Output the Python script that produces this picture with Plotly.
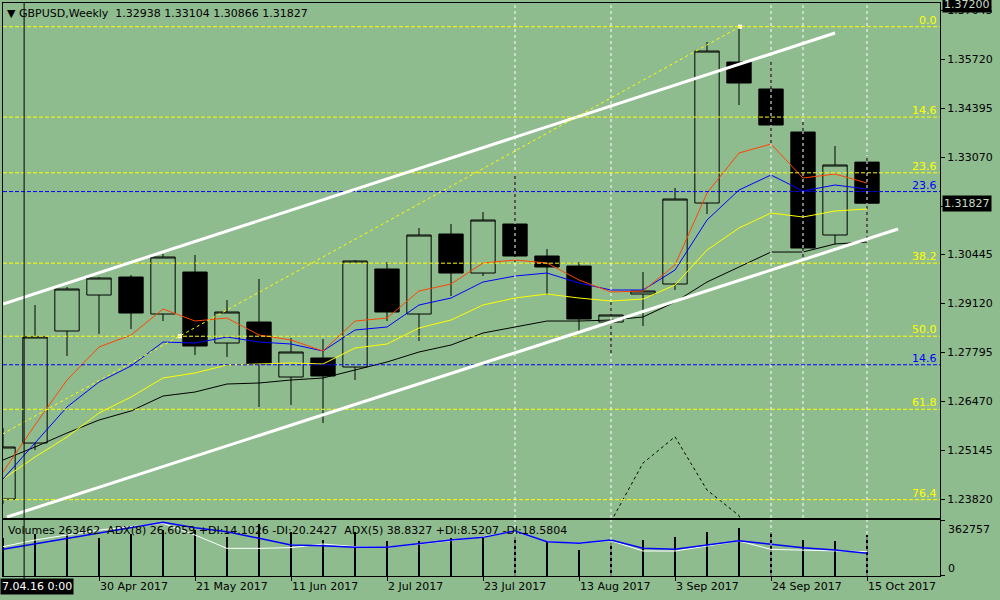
import plotly.graph_objects as go

BG = '#8FBC8F'

# weekly GBPUSD bars, first bar = week of 9 Apr 2017
opens = [1.23828, 1.25342, 1.28371, 1.29344, 1.29831, 1.28831, 1.29966, 1.28046, 1.28614, 1.27127,
         1.27641, 1.27397, 1.30048, 1.28831, 1.30994, 1.29939, 1.31264, 1.30399, 1.30129, 1.28614,
         1.29371, 1.29642, 1.31832, 1.35645, 1.34915, 1.33752, 1.30967, 1.32938]
highs = [1.25748, 1.29074, 1.29561, 1.29831, 1.29885, 1.30453, 1.30426, 1.29209, 1.29777, 1.28182,
         1.28155, 1.30291, 1.30237, 1.31156, 1.31264, 1.31589, 1.32670, 1.30588, 1.30237, 1.29155,
         1.29966, 1.32238, 1.36186, 1.36618, 1.35726, 1.34023, 1.33374, 1.33104]
lows = [1.23700, 1.25153, 1.27695, 1.28290, 1.28425, 1.28641, 1.27722, 1.27668, 1.26316, 1.26370,
        1.25883, 1.27046, 1.28641, 1.28101, 1.29317, 1.29858, 1.30237, 1.29344, 1.28371, 1.27749,
        1.28506, 1.29480, 1.31535, 1.34482, 1.33428, 1.30345, 1.30724, 1.30866]
closes = [1.25234, 1.28209, 1.29507, 1.29804, 1.28858, 1.30372, 1.27965, 1.28885, 1.27479, 1.27803,
          1.27154, 1.30264, 1.28885, 1.30967, 1.29939, 1.31372, 1.30399, 1.30102, 1.28695, 1.28804,
          1.29453, 1.31940, 1.35942, 1.35077, 1.33941, 1.30615, 1.32860, 1.31827]

# moving averages
ma_red = [1.24558, 1.25829, 1.27046, 1.27938, 1.28263, 1.28966, 1.28641, 1.28722, 1.28263, 1.28128,
          1.27830, 1.28641, 1.28722, 1.29453, 1.29642, 1.30210, 1.30291, 1.30210, 1.29750, 1.29426,
          1.29453, 1.30156, 1.32103, 1.33184, 1.33428, 1.32508, 1.32616, 1.32373]
ma_blue = [1.24369, 1.25342, 1.26316, 1.26992, 1.27425, 1.28073, 1.28046, 1.28209, 1.28073, 1.28019,
           1.27830, 1.28398, 1.28479, 1.29074, 1.29263, 1.29696, 1.29858, 1.29939, 1.29669, 1.29480,
           1.29480, 1.30020, 1.31373, 1.32184, 1.32589, 1.32157, 1.32319, 1.32211]
ma_yellow = [1.24369, 1.24964, 1.25505, 1.26154, 1.26586, 1.27100, 1.27235, 1.27452, 1.27479, 1.27506,
             1.27479, 1.27911, 1.28019, 1.28452, 1.28668, 1.29074, 1.29263, 1.29371, 1.29263, 1.29182,
             1.29236, 1.29615, 1.30561, 1.31156, 1.31562, 1.31454, 1.31616, 1.31670]
ma_black = [1.24883, 1.25234, 1.25613, 1.25964, 1.26208, 1.26613, 1.26721, 1.26938, 1.26965, 1.27046,
            1.27100, 1.27316, 1.27533, 1.27803, 1.27992, 1.28317, 1.28479, 1.28641, 1.28641, 1.28668,
            1.28750, 1.29155, 1.29696, 1.30102, 1.30507, 1.30507, 1.30724, 1.30778]

# dotted indicator (mostly below the visible range)
dot_idx = [19, 20, 21, 22, 23, 24, 25, 26, 27]
dot_vals = [1.2322, 1.2480, 1.2551, 1.2407, 1.2338, 1.2100, 1.2100, 1.2200, 1.2336]

volumes = [244200, 270100, 270100, 244200, 270100, 298000, 298000, 254600, 334900, 287000,
           233200, 287000, 226700, 226700, 244200, 244200, 250000, 218300, 168400, 211800,
           233200, 250700, 283000, 308700, 283000, 233200, 226700, 263462]
adx_blue = [47.7, 57.1, 66.8, 76.4, 86.1, 95.9, 86.3, 79.2, 67.3, 55.4, 54.2, 51.2, 51.2, 58.3,
            64.3, 69.0, 80.4, 61.3, 58.3, 64.3, 49.4, 47.6, 55.4, 63.1, 56.5, 50.6, 46.4, 40.5]
adx_white = [52.4, 64.3, 73.2, 82.1, 88.1, 94.0, 73.2, 49.4, 49.4, 50.6, 57.1, 52.4, 51.2, 56.5,
             63.1, 70.2, 79.2, 61.3, 58.3, 63.1, 44.6, 44.6, 54.2, 62.5, 47.6, 46.4, 44.6, 43.5]

tick_idx = [3, 6, 9, 12, 15, 18, 21, 24, 27]
tick_text = ['30 Apr 2017', '21 May 2017', '11 Jun 2017', '2 Jul 2017', '23 Jul 2017',
             '13 Aug 2017', '3 Sep 2017', '24 Sep 2017', '15 Oct 2017']
price_ticks = [1.23820, 1.25145, 1.26470, 1.27795, 1.29120, 1.30445, 1.31745, 1.33070,
               1.34395, 1.35720, 1.37045]
# 1.31745 sits under the current-price box, so its label is left out
price_tick_text = ['' if t == 1.31745 else '%.5f' % t for t in price_ticks]

fib_high, fib_low = 1.36600, 1.19860
fib_levels = [0.0, 14.6, 23.6, 38.2, 50.0, 61.8, 76.4]
fib2_low, fib2_high = 1.19860, 1.71900
fib2_levels = [14.6, 23.6]

upper_channel = [(0.0, 1.29101), (26.0, 1.36429)]
lower_channel = [(0.125, 1.23341), (27.97, 1.31129)]
fib_ray = [(-12.0, 1.19860), (23.03, 1.36600)]
fib_anchor_x = [5.53, 23.03]
fib_anchor_y = [1.28230, 1.36600]

vlines_main = [16, 19, 24, 25, 27]
vlines_sub = [16, 19, 24, 27]

idx = list(range(len(opens)))
FONT = 'DejaVu Sans'

fig = go.Figure()

fig.add_trace(go.Candlestick(
    x=idx, open=opens, high=highs, low=lows, close=closes,
    increasing=dict(line=dict(color='black', width=1), fillcolor=BG),
    decreasing=dict(line=dict(color='black', width=1), fillcolor='black'),
    whiskerwidth=0, showlegend=False, xaxis='x', yaxis='y'))

for vals, col in [(ma_black, 'black'), (ma_yellow, '#FFFF00'), (ma_blue, '#0000FF'), (ma_red, '#FF4500')]:
    fig.add_trace(go.Scatter(x=idx, y=vals, mode='lines', line=dict(color=col, width=1),
                             showlegend=False, xaxis='x', yaxis='y'))

fig.add_trace(go.Scatter(x=dot_idx, y=dot_vals, mode='lines', line=dict(color='black', width=1, dash='dot'),
                         showlegend=False, xaxis='x', yaxis='y'))
fig.add_trace(go.Scatter(x=fib_anchor_x, y=fib_anchor_y, mode='markers',
                         marker=dict(color='white', size=4, symbol='square'),
                         showlegend=False, xaxis='x', yaxis='y'))

# volumes + ADX panel
fig.add_trace(go.Bar(x=idx, y=volumes, width=0.09, marker=dict(color='black', line=dict(width=0)),
                     showlegend=False, xaxis='x2', yaxis='y2'))
fig.add_trace(go.Scatter(x=idx, y=adx_white, mode='lines', line=dict(color='white', width=1),
                         showlegend=False, xaxis='x2', yaxis='y3'))
fig.add_trace(go.Scatter(x=idx, y=adx_blue, mode='lines', line=dict(color='#0000FF', width=1.5),
                         showlegend=False, xaxis='x2', yaxis='y3'))

shapes = []
for lvl in fib_levels:
    p = fib_high - lvl / 100 * (fib_high - fib_low)
    shapes.append(dict(type='line', xref='x domain', yref='y', x0=0, x1=1, y0=p, y1=p,
                       line=dict(color='#FFFF00', width=1, dash='4px,2px')))
for lvl in fib2_levels:
    p = fib2_low + lvl / 100 * (fib2_high - fib2_low)
    shapes.append(dict(type='line', xref='x domain', yref='y', x0=0, x1=1, y0=p, y1=p,
                       line=dict(color='#0000FF', width=1, dash='4px,2px')))
for v in vlines_main:
    shapes.append(dict(type='line', xref='x', yref='y domain', x0=v, x1=v, y0=0, y1=1,
                       line=dict(color='white', width=1, dash='3px,3px')))
for v in vlines_sub:
    shapes.append(dict(type='line', xref='x2', yref='y2 domain', x0=v, x1=v, y0=0, y1=1,
                       line=dict(color='white', width=1, dash='3px,3px')))
for (xa, ya), (xb, yb) in [upper_channel, lower_channel]:
    shapes.append(dict(type='line', xref='x', yref='y', x0=xa, y0=ya, x1=xb, y1=yb,
                       line=dict(color='white', width=3)))
shapes.append(dict(type='line', xref='x', yref='y', x0=fib_ray[0][0], y0=fib_ray[0][1],
                   x1=fib_ray[1][0], y1=fib_ray[1][1], line=dict(color='#FFFF00', width=1, dash='dot')))
# crosshair line
shapes.append(dict(type='line', xref='x', yref='paper', x0=0.66, x1=0.66, y0=-0.007, y1=1,
                   line=dict(color='black', width=1)))

annotations = []
for lvl in fib_levels:
    p = fib_high - lvl / 100 * (fib_high - fib_low)
    annotations.append(dict(text='%.1f' % lvl, xref='paper', yref='y', x=0.999, y=p, xanchor='right',
                            yanchor='bottom', showarrow=False, yshift=-2,
                            font=dict(family=FONT, size=11, color='#FFFF00')))
for lvl in fib2_levels:
    p = fib2_low + lvl / 100 * (fib2_high - fib2_low)
    annotations.append(dict(text='%.1f' % lvl, xref='paper', yref='y', x=0.999, y=p, xanchor='right',
                            yanchor='bottom', showarrow=False, yshift=-2,
                            font=dict(family=FONT, size=11, color='#0000FF')))

annotations += [
    dict(text='\u25bc GBPUSD,Weekly\u00a0\u00a01.32938 1.33104 1.30866 1.31827', xref='paper', yref='paper',
         x=0.002, y=1, xanchor='left', yanchor='top', yshift=-2, showarrow=False,
         font=dict(family=FONT, size=11, color='black')),
    dict(text='Volumes 263462\u00a0\u00a0ADX(8) 26.6059 +DI:14.1026 -DI:20.2427\u00a0\u00a0ADX(5) 38.8327 +DI:8.5207 -DI:18.5804',
         xref='paper', yref='paper', x=0.003, y=0.08, xanchor='left', yanchor='middle', showarrow=False,
         font=dict(family=FONT, size=11, color='black')),
    dict(text=f'{closes[-1]:.5f}', xref='paper', yref='y', x=1.002, y=closes[-1], xanchor='left',
         yanchor='middle', showarrow=False, bgcolor='black', borderpad=1,
         font=dict(family=FONT, size=11, color='#C8DCC6')),
    dict(text='1.37200', xref='paper', yref='paper', x=1.002, y=1, xanchor='left', yanchor='middle',
         yshift=-1, showarrow=False, bgcolor='black', borderpad=1,
         font=dict(family=FONT, size=11, color='#C8DCC6')),
    dict(text='7.04.16 0:00', xref='paper', yref='paper', x=-0.0032, y=-0.019, xanchor='left',
         yanchor='middle', showarrow=False, bgcolor='black', borderpad=1,
         font=dict(family=FONT, size=11, color='white')),
    dict(text='362757', xref='paper', yref='paper', x=1.006, y=0.082, xanchor='left', yanchor='middle',
         showarrow=False, font=dict(family=FONT, size=11, color='black')),
    dict(text='0', xref='paper', yref='paper', x=1.006, y=0.013, xanchor='left', yanchor='middle',
         showarrow=False, font=dict(family=FONT, size=11, color='black')),
]

xr = [0, 937 / 32]
fig.update_layout(
    width=1000, height=600,
    margin=dict(l=3, r=60, t=3, b=24),
    paper_bgcolor=BG, plot_bgcolor=BG,
    font=dict(family=FONT, size=11, color='black'),
    boxgap=0.24,
    boxgroupgap=0,
    bargap=0,
    xaxis=dict(domain=[0, 1], range=xr, anchor='y', showticklabels=False, showgrid=False,
               zeroline=False, showline=True, linecolor='black', mirror=True,
               rangeslider=dict(visible=False), ticks=''),
    yaxis=dict(domain=[0.1012, 1], range=[1.23314, 1.37241], side='right', tickmode='array',
               tickvals=price_ticks, ticktext=price_tick_text,
               ticks='outside', ticklen=4, tickcolor='black',
               showgrid=False, zeroline=False, showline=True, linecolor='black', mirror=True),
    xaxis2=dict(domain=[0, 1], range=xr, anchor='y2', matches='x', tickmode='array',
                tickvals=tick_idx, ticktext=tick_text, ticks='outside', ticklen=4, tickcolor='black',
                ticklabelposition='outside right', showgrid=False, zeroline=False, showline=True,
                linecolor='black', mirror=True),
    yaxis2=dict(domain=[0, 0.0977], range=[0, 362757], side='right', tickvals=[0, 362757],
                showticklabels=False, ticks='outside', ticklen=4, tickcolor='black', showgrid=False,
                zeroline=False, showline=True, linecolor='black', mirror=True),
    yaxis3=dict(overlaying='y2', range=[0, 100], visible=False),
    shapes=shapes,
    annotations=annotations,
)

# page body has a default 8px margin; drop it so the chart sits at the window corner
fig.write_html("out.html", config={'displayModeBar': False},
               post_script="document.body.style.margin='0px';")
